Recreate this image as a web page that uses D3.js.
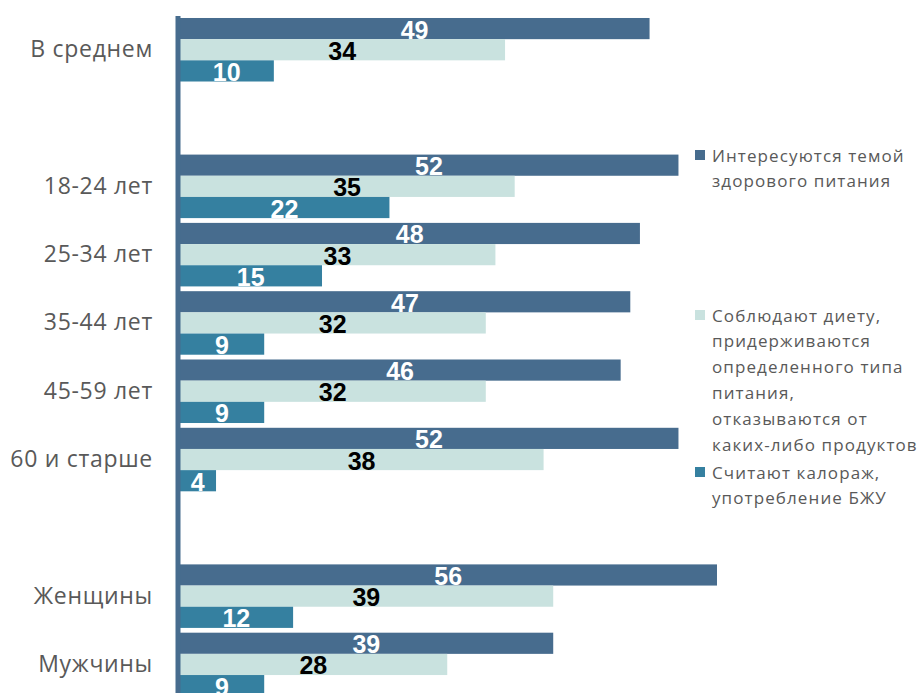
<!DOCTYPE html>
<html>
<head>
<meta charset="utf-8">
<script src="https://cdn.jsdelivr.net/npm/d3@7"></script>
<style>
  body { margin: 0; background: #fff; }
  svg { display: block; }
</style>
</head>
<body>
<svg id="chart" style="width:920px;height:693px"></svg>
<script>
d3.select(window).on('load', init);

// categories (empty strings are the gaps between groups)
var categories = ['В среднем', '', '18-24 лет', '25-34 лет', '35-44 лет', '45-59 лет', '60 и старше', '', 'Женщины', 'Мужчины'];

var seriesNames = [
    ['Интересуются темой', 'здорового питания'],
    ['Соблюдают диету,', 'придерживаются', 'определенного типа', 'питания,', 'отказываются от', 'каких-либо продуктов'],
    ['Считают калораж,', 'употребление БЖУ']
];

var interested = [49, null, 52, 48, 47, 46, 52, null, 56, 39];
var onDiet     = [34, null, 35, 33, 32, 32, 38, null, 39, 28];
var calories   = [10, null, 22, 15, 9, 9, 4, null, 12, 9];

var colors = ['#476c8e', '#c9e2df', '#3580a0'];
var labelColors = ['#ffffff', '#000000', '#ffffff'];

function init() {

    var svg = d3.select('#chart');

    var series = [interested, onDiet, calories];

    var xScale = d3.scaleLinear()
        .domain([0, 56])
        .range([177.5, 717]);

    var yScale = d3.scaleBand()
        .domain(d3.range(categories.length))
        .range([15.6, 698.6])
        .paddingInner(0.07)
        .paddingOuter(0.035);

    var inner = d3.scaleBand()
        .domain([0, 1, 2])
        .range([0, yScale.bandwidth()]);

    var plot = svg.append('g');

    series.forEach(function(values, s) {
        var rows = values.map(function(v, i) { return {i: i, v: v}; })
            .filter(function(d) { return d.v !== null; });

        plot.selectAll('rect.s' + s)
            .data(rows)
            .enter()
            .append('rect')
            .attr('class', 's' + s)
            .attr('x', xScale(0))
            .attr('y', function(d) { return yScale(d.i) + inner(s); })
            .attr('width', function(d) { return xScale(d.v) - xScale(0); })
            .attr('height', inner.bandwidth())
            .attr('fill', colors[s]);

        plot.selectAll('text.s' + s)
            .data(rows)
            .enter()
            .append('text')
            .attr('class', 's' + s)
            .attr('x', function(d) { return (xScale(0) + xScale(d.v)) / 2 + 1; })
            .attr('y', function(d) { return yScale(d.i) + inner(s) + inner.bandwidth() / 2 + 1; })
            .attr('text-anchor', 'middle')
            .attr('dominant-baseline', 'central')
            .style('font-family', 'Liberation Sans, Arial, sans-serif')
            .style('font-weight', 'bold')
            .style('font-size', '25px')
            .attr('fill', labelColors[s])
            .text(function(d) { return d.v; });
    });

    // category axis
    var axis = svg.append('g')
        .attr('transform', 'translate(' + xScale(0) + ',0)')
        .call(d3.axisLeft(yScale)
            .tickSize(0)
            .tickSizeOuter(0)
            .tickPadding(24.5)
            .tickFormat(function(i) { return categories[i]; }));

    axis.select('.domain')
        .attr('stroke', '#476c8e')
        .attr('stroke-width', 5);

    axis.selectAll('text')
        .style('font-family', 'Open Sans, sans-serif')
        .style('font-size', '23px')
        .style('letter-spacing', '0.7px')
        .attr('fill', '#595959');

    // legend
    var legendTop = [155, 315, 472];
    var lineH = 25.8;
    var legend = svg.append('g');

    seriesNames.forEach(function(lines, s) {
        var g = legend.append('g')
            .attr('transform', 'translate(695,' + legendTop[s] + ')');
        g.append('rect')
            .attr('x', 0)
            .attr('y', -5)
            .attr('width', 10)
            .attr('height', 10)
            .attr('fill', colors[s]);
        g.selectAll('text')
            .data(lines)
            .enter()
            .append('text')
            .attr('x', 17)
            .attr('y', function(d, k) { return k * lineH; })
            .attr('dominant-baseline', 'central')
            .style('font-family', 'Open Sans, sans-serif')
            .style('font-size', '17px')
            .style('letter-spacing', '1.1px')
            .attr('fill', '#595959')
            .text(function(d) { return d; });
    });
}
</script>
</body>
</html>
